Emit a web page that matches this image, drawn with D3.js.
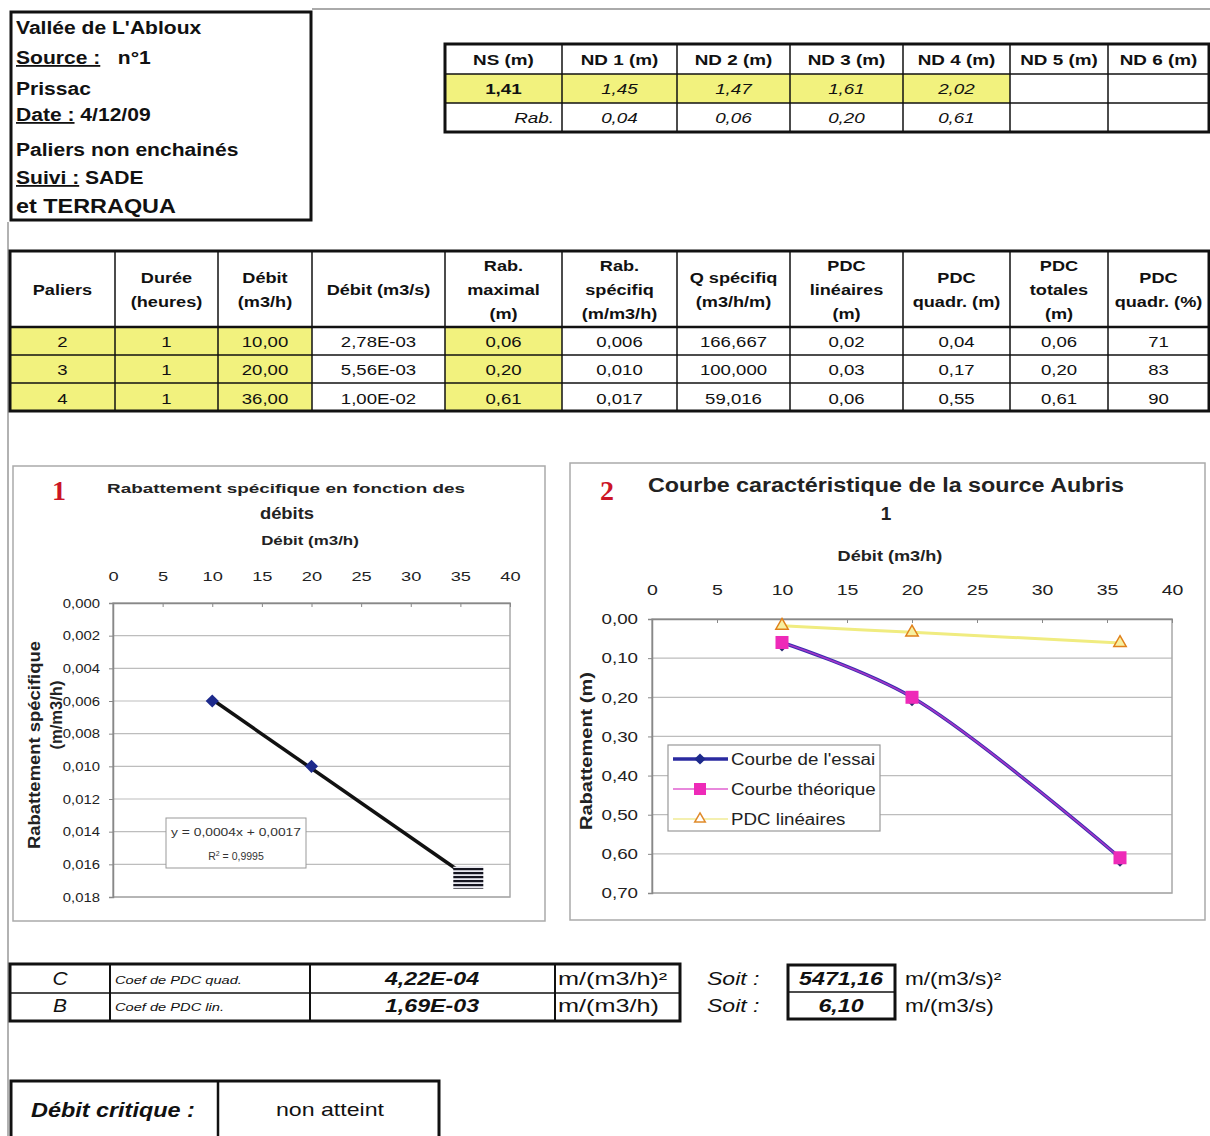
<!DOCTYPE html>
<html>
<head>
<meta charset="utf-8">
<script src="https://cdn.jsdelivr.net/npm/d3@7"></script>
<style>
  body { margin: 0; background: #fff; }
  svg { display: block; font-family: "Liberation Sans", Arial, sans-serif; }
</style>
</head>
<body>
<svg id="sheet"></svg>
<script>
(function() {

// ---- data read from the sheet ----
const infoLines = [
    { label: "", text: "Vallée de L'Abloux" },
    { label: "Source :", text: "   n°1" },
    { label: "", text: "Prissac" },
    { label: "Date :", text: " 4/12/09" },
    { label: "", text: "Paliers non enchainés" },
    { label: "Suivi :", text: " SADE" },
    { label: "", text: "et TERRAQUA" }
];

const niveauHeaders = ["NS (m)", "ND 1 (m)", "ND 2 (m)", "ND 3 (m)", "ND  4 (m)", "ND 5 (m)", "ND 6 (m)"];
const niveauValues = ["1,41", "1,45", "1,47", "1,61", "2,02", "", ""];
const niveauRab = ["Rab.", "0,04", "0,06", "0,20", "0,61", "", ""];

const palierHeaders = [
    ["Paliers"], ["Durée", "(heures)"], ["Débit", "(m3/h)"], ["Débit (m3/s)"],
    ["Rab.", "maximal", "(m)"], ["Rab.", "spécifiq", "(m/m3/h)"], ["Q spécifiq", "(m3/h/m)"],
    ["PDC", "linéaires", "(m)"], ["PDC", "quadr. (m)"], ["PDC", "totales", "(m)"], ["PDC", "quadr. (%)"]
];
const palierRows = [
    ["2", "1", "10,00", "2,78E-03", "0,06", "0,006", "166,667", "0,02", "0,04", "0,06", "71"],
    ["3", "1", "20,00", "5,56E-03", "0,20", "0,010", "100,000", "0,03", "0,17", "0,20", "83"],
    ["4", "1", "36,00", "1,00E-02", "0,61", "0,017", "59,016", "0,06", "0,55", "0,61", "90"]
];
const yellowCols = [0, 1, 2, 4];

// chart values
const debits = [10, 20, 36];
const rabSpecifique = [0.006, 0.010, 0.017];
const rabEssai = [0.06, 0.20, 0.61];
const rabTheorique = [0.06, 0.20, 0.61];
const pdcLineaires = [0.017, 0.034, 0.061];
const xTicks = [0, 5, 10, 15, 20, 25, 30, 35, 40];
const y1Ticks = [0, 0.002, 0.004, 0.006, 0.008, 0.010, 0.012, 0.014, 0.016, 0.018];
const y2Ticks = [0, 0.1, 0.2, 0.3, 0.4, 0.5, 0.6, 0.7];
const coefC = 4.22e-4;
const coefB = 1.69e-3;

const coefRows = [
    ["C", "Coef de PDC quad.", "4,22E-04", "m/(m3/h)²", "5471,16", "m/(m3/s)²"],
    ["B", "Coef de PDC lin.", "1,69E-03", "m/(m3/h)", "6,10", "m/(m3/s)"]
];

const yellow = "#f2f27e";

const svg = d3.select("#sheet").attr("width", 1210).attr("height", 1136);

// the scan is a bit wider than the fonts, so text gets stretched sideways
function stretch(sel, k) {
    sel.each(function() {
        const len = this.getComputedTextLength();
        if (len > 0) d3.select(this).attr("textLength", len * k).attr("lengthAdjust", "spacingAndGlyphs");
    });
    return sel;
}

// page edges from the scan
svg.append("line").attr("x1", 312).attr("x2", 1210).attr("y1", 9).attr("y2", 9)
    .attr("stroke", "#aaa").attr("stroke-width", 2);
svg.append("line").attr("x1", 8).attr("x2", 8).attr("y1", 222).attr("y2", 1136)
    .attr("stroke", "#999").attr("stroke-width", 1.5);

// ---- info box ----
svg.append("rect").attr("x", 11).attr("y", 12).attr("width", 300).attr("height", 208)
    .attr("fill", "none").attr("stroke", "#111").attr("stroke-width", 3);
const infoBase = [34, 64, 95, 121, 156, 184, 213];
infoLines.forEach((d, i) => {
    const t = svg.append("text").attr("x", 16).attr("y", infoBase[i])
        .attr("font-weight", "bold").attr("font-size", i === 6 ? 20 : 18).attr("fill", "#111");
    if (d.label) t.append("tspan").attr("text-decoration", "underline").text(d.label);
    t.append("tspan").attr("xml:space", "preserve").style("white-space", "pre").text(d.text);
    stretch(t, 1.17);
});

// ---- helper for a grid of cells ----
function cellText(x, y, txt, opts) {
    const t = svg.append("text").attr("x", x).attr("y", y)
        .attr("text-anchor", opts.anchor || "middle")
        .attr("font-size", opts.size || 14)
        .attr("font-weight", opts.bold ? "bold" : "normal")
        .attr("font-style", opts.italic ? "italic" : "normal")
        .attr("fill", "#111")
        .text(txt);
    return stretch(t, opts.k || 1.3);
}

// ---- niveaux table ----
const nCols = [445, 562, 677, 790, 903, 1010, 1108, 1209];
const nRows = [44, 74, 103, 132];
niveauValues.forEach((v, i) => {
    if (v) svg.append("rect").attr("x", nCols[i]).attr("y", nRows[1])
        .attr("width", nCols[i + 1] - nCols[i]).attr("height", nRows[2] - nRows[1]).attr("fill", yellow);
});
nCols.slice(1, -1).forEach(x => svg.append("line").attr("x1", x).attr("x2", x)
    .attr("y1", nRows[0]).attr("y2", nRows[3]).attr("stroke", "#111").attr("stroke-width", 1.5));
nRows.slice(1, -1).forEach(y => svg.append("line").attr("x1", nCols[0]).attr("x2", nCols[7])
    .attr("y1", y).attr("y2", y).attr("stroke", "#111").attr("stroke-width", 1.5));
svg.append("rect").attr("x", nCols[0]).attr("y", nRows[0]).attr("width", nCols[7] - nCols[0])
    .attr("height", nRows[3] - nRows[0]).attr("fill", "none").attr("stroke", "#111").attr("stroke-width", 3);
niveauHeaders.forEach((h, i) => cellText((nCols[i] + nCols[i + 1]) / 2, 65, h, { bold: true, size: 14.5, k: 1.3 }));
niveauValues.forEach((v, i) => cellText((nCols[i] + nCols[i + 1]) / 2, 94, v, { bold: i === 0, italic: i > 0, size: 14.5 }));
niveauRab.forEach((v, i) => {
    if (i === 0) cellText(nCols[1] - 8, 123, v, { italic: true, anchor: "end", size: 14.5 });
    else cellText((nCols[i] + nCols[i + 1]) / 2, 123, v, { italic: true, size: 14.5 });
});

// ---- paliers table ----
const pCols = [10, 115, 218, 312, 445, 562, 677, 790, 903, 1010, 1108, 1209];
const pRows = [251, 327, 355, 383, 411];
palierRows.forEach((row, r) => {
    yellowCols.forEach(c => svg.append("rect").attr("x", pCols[c]).attr("y", pRows[r + 1])
        .attr("width", pCols[c + 1] - pCols[c]).attr("height", pRows[r + 2] - pRows[r + 1]).attr("fill", yellow));
});
pCols.slice(1, -1).forEach(x => svg.append("line").attr("x1", x).attr("x2", x)
    .attr("y1", pRows[0]).attr("y2", pRows[4]).attr("stroke", "#111").attr("stroke-width", 1.5));
pRows.slice(1, -1).forEach(y => svg.append("line").attr("x1", pCols[0]).attr("x2", pCols[11])
    .attr("y1", y).attr("y2", y).attr("stroke", "#111").attr("stroke-width", y === 327 ? 2.5 : 1.5));
svg.append("rect").attr("x", pCols[0]).attr("y", pRows[0]).attr("width", pCols[11] - pCols[0])
    .attr("height", pRows[4] - pRows[0]).attr("fill", "none").attr("stroke", "#111").attr("stroke-width", 3);
palierHeaders.forEach((lines, i) => {
    const cx = (pCols[i] + pCols[i + 1]) / 2;
    const start = 295 - (lines.length - 1) * 12;
    lines.forEach((l, k) => cellText(cx, start + k * 24, l, { bold: true, size: 14.5, k: 1.25 }));
});
palierRows.forEach((row, r) => row.forEach((v, i) =>
    cellText((pCols[i] + pCols[i + 1]) / 2, 346.5 + r * 28.5, v, { size: 14.5, k: 1.28 })));

// ---- chart frames ----
svg.append("rect").attr("x", 13).attr("y", 466).attr("width", 532).attr("height", 455)
    .attr("fill", "none").attr("stroke", "#aaa").attr("stroke-width", 1.5);
svg.append("rect").attr("x", 570).attr("y", 463).attr("width", 635).attr("height", 457)
    .attr("fill", "none").attr("stroke", "#aaa").attr("stroke-width", 1.5);

function redNumber(x, y, n) {
    svg.append("text").attr("x", x).attr("y", y).attr("font-family", "'Liberation Serif', serif")
        .attr("font-weight", "bold").attr("font-size", 28).attr("fill", "#cc1526").text(n);
}

function drawFrame(g, x, y, yTicks, fmt, opts) {
    const w = x.range()[1] - x.range()[0];
    g.selectAll(".grid").data(yTicks.slice(1)).enter().append("line")
        .attr("x1", x.range()[0]).attr("x2", x.range()[1])
        .attr("y1", d => y(d)).attr("y2", d => y(d))
        .attr("stroke", "#bdbdbd").attr("stroke-width", 1.2);
    g.append("rect").attr("x", x.range()[0]).attr("y", y.range()[0]).attr("width", w)
        .attr("height", y.range()[1] - y.range()[0]).attr("fill", "none").attr("stroke", "#a8a8a8").attr("stroke-width", 1.5);
    const ax = g.append("g").attr("transform", `translate(0,${y.range()[0]})`)
        .call(d3.axisTop(x).tickValues(xTicks).tickSizeInner(-4).tickSizeOuter(0).tickPadding(opts.xPad));
    const ay = g.append("g").attr("transform", `translate(${x.range()[0]},0)`)
        .call(d3.axisLeft(y).tickValues(yTicks).tickFormat(d => fmt(d).replace(".", ",")).tickSize(4).tickPadding(opts.yPad));
    [ax, ay].forEach(a => {
        a.select(".domain").attr("stroke", "#888").attr("stroke-width", 1.5);
        a.selectAll(".tick line").attr("stroke", "#888");
        a.selectAll("text").attr("font-family", "'Liberation Sans', Arial, sans-serif")
            .attr("font-size", opts.font).attr("fill", "#222");
    });
    stretch(ax.selectAll("text"), opts.kx);
    stretch(ay.selectAll("text"), opts.ky);
}

// ---- chart 1 ----
const x1 = d3.scaleLinear().domain([0, 40]).range([113, 510]);
const y1 = d3.scaleLinear().domain([0, 0.018]).range([603, 897]);
const g1 = svg.append("g");
redNumber(52, 500, "1");
g1.append("text").attr("x", 286).attr("y", 493).attr("text-anchor", "middle")
    .attr("font-weight", "bold").attr("font-size", 13.5).attr("fill", "#222")
    .attr("textLength", 358).attr("lengthAdjust", "spacingAndGlyphs")
    .text("Rabattement spécifique en fonction des");
stretch(g1.append("text").attr("x", 287).attr("y", 519).attr("text-anchor", "middle")
    .attr("font-weight", "bold").attr("font-size", 16).attr("fill", "#222").text("débits"), 1.15);
stretch(g1.append("text").attr("x", 310).attr("y", 545).attr("text-anchor", "middle")
    .attr("font-weight", "bold").attr("font-size", 13).attr("fill", "#222").text("Débit (m3/h)"), 1.3);
drawFrame(g1, x1, y1, y1Ticks, d3.format(".3f"), { xPad: 22, yPad: 9, font: 13.5, kx: 1.35, ky: 1.1 });
g1.append("text").attr("transform", "translate(40,745) rotate(-90)").attr("text-anchor", "middle")
    .attr("font-weight", "bold").attr("font-size", 16.5).attr("fill", "#222")
    .attr("textLength", 208).attr("lengthAdjust", "spacingAndGlyphs").text("Rabattement spécifique");
g1.append("text").attr("transform", "translate(62,715) rotate(-90)").attr("text-anchor", "middle")
    .attr("font-weight", "bold").attr("font-size", 16.5).attr("fill", "#222").text("(m/m3/h)");

// trend line y = C x + B
const trend = [debits[0], debits[debits.length - 1]].map(q => [q, coefC * q + coefB]);
g1.append("path").attr("d", d3.line().x(d => x1(d[0])).y(d => y1(d[1]))(trend))
    .attr("stroke", "#111").attr("stroke-width", 3.5).attr("fill", "none");

const stripes = svg.append("defs").append("pattern").attr("id", "stripes")
    .attr("patternUnits", "userSpaceOnUse").attr("width", 6).attr("height", 4);
stripes.append("rect").attr("width", 6).attr("height", 4).attr("fill", "#e8e8f0");
stripes.append("rect").attr("width", 6).attr("height", 2.2).attr("fill", "#151520");

debits.forEach((q, i) => {
    if (i < debits.length - 1) {
        g1.append("path").attr("d", d3.symbol(d3.symbolDiamond2, 110)())
            .attr("transform", `translate(${x1(q)},${y1(rabSpecifique[i])})`)
            .attr("fill", "#1d2a8c");
    } else {
        g1.append("rect").attr("x", x1(q) - 17).attr("y", y1(rabSpecifique[i]) - 14)
            .attr("width", 30).attr("height", 22).attr("fill", "url(#stripes)");
    }
});

// equation label
g1.append("rect").attr("x", 166).attr("y", 818).attr("width", 140).attr("height", 50)
    .attr("fill", "#fff").attr("stroke", "#999").attr("stroke-width", 1);
g1.append("text").attr("x", 236).attr("y", 836).attr("text-anchor", "middle")
    .attr("font-size", 10.5).attr("fill", "#333").attr("textLength", 130).attr("lengthAdjust", "spacingAndGlyphs")
    .text("y = 0,0004x + 0,0017");
const r2 = g1.append("text").attr("x", 236).attr("y", 860).attr("text-anchor", "middle")
    .attr("font-size", 10.5).attr("fill", "#333");
r2.append("tspan").text("R");
r2.append("tspan").attr("dy", -4).attr("font-size", 7).text("2");
r2.append("tspan").attr("dy", 4).text(" = 0,9995");

// ---- chart 2 ----
const x2 = d3.scaleLinear().domain([0, 40]).range([652, 1172]);
const y2 = d3.scaleLinear().domain([0, 0.7]).range([619, 893]);
const g2 = svg.append("g");
redNumber(600, 500, "2");
g2.append("text").attr("x", 886).attr("y", 492).attr("text-anchor", "middle")
    .attr("font-weight", "bold").attr("font-size", 19.5).attr("fill", "#222")
    .attr("textLength", 476).attr("lengthAdjust", "spacingAndGlyphs")
    .text("Courbe caractéristique de la source Aubris");
g2.append("text").attr("x", 886).attr("y", 520).attr("text-anchor", "middle")
    .attr("font-weight", "bold").attr("font-size", 19).attr("fill", "#222").text("1");
stretch(g2.append("text").attr("x", 890).attr("y", 561).attr("text-anchor", "middle")
    .attr("font-weight", "bold").attr("font-size", 14.5).attr("fill", "#222").text("Débit (m3/h)"), 1.25);
drawFrame(g2, x2, y2, y2Ticks, d3.format(".2f"), { xPad: 24, yPad: 10, font: 15, kx: 1.3, ky: 1.25 });
g2.append("text").attr("transform", "translate(592,751) rotate(-90)").attr("text-anchor", "middle")
    .attr("font-weight", "bold").attr("font-size", 16).attr("fill", "#222")
    .attr("textLength", 158).attr("lengthAdjust", "spacingAndGlyphs").text("Rabattement (m)");

const smooth = d3.line().x(d => x2(d[0])).y(d => y2(d[1])).curve(d3.curveCatmullRom.alpha(0.5));
const essai = debits.map((q, i) => [q, rabEssai[i]]);
const theo = debits.map((q, i) => [q, rabTheorique[i]]);
const lin = debits.map((q, i) => [q, pdcLineaires[i]]);

g2.append("path").attr("d", smooth(lin)).attr("fill", "none").attr("stroke", "#f0ec80").attr("stroke-width", 3);
g2.append("path").attr("d", smooth(essai)).attr("fill", "none").attr("stroke", "#3a2cb0").attr("stroke-width", 3.5);
g2.append("path").attr("d", smooth(theo)).attr("fill", "none").attr("stroke", "#d33ad0").attr("stroke-width", 1.6).attr("opacity", 0.7);

essai.forEach(d => g2.append("path").attr("d", d3.symbol(d3.symbolDiamond2, 90)())
    .attr("transform", `translate(${x2(d[0])},${y2(d[1]) + 3})`).attr("fill", "#2a2a70"));
theo.forEach(d => g2.append("rect").attr("x", x2(d[0]) - 6.5).attr("y", y2(d[1]) - 6.5)
    .attr("width", 13).attr("height", 13).attr("fill", "#ee2ab8"));
const tri = d3.symbol(d3.symbolTriangle2, 110)();
lin.forEach(d => g2.append("path").attr("d", tri)
    .attr("transform", `translate(${x2(d[0])},${y2(d[1])})`)
    .attr("fill", "#f7f0a0").attr("stroke", "#e0801a").attr("stroke-width", 1.5));

// legend
const legend = [
    { name: "Courbe de l'essai", color: "#2a2aa0", width: 3.5, mark: "diamond" },
    { name: "Courbe théorique", color: "#e060d0", width: 1.5, mark: "square" },
    { name: "PDC linéaires", color: "#f4f0b0", width: 2, mark: "triangle" }
];
g2.append("rect").attr("x", 668).attr("y", 745).attr("width", 212).attr("height", 86)
    .attr("fill", "#fff").attr("stroke", "#999").attr("stroke-width", 1.2);
legend.forEach((d, i) => {
    const ly = 759 + i * 30;
    g2.append("line").attr("x1", 673).attr("x2", 728).attr("y1", ly).attr("y2", ly)
        .attr("stroke", d.color).attr("stroke-width", d.width);
    if (d.mark === "diamond") g2.append("path").attr("d", d3.symbol(d3.symbolDiamond2, 80)())
        .attr("transform", `translate(700,${ly})`).attr("fill", "#1d2a8c");
    if (d.mark === "square") g2.append("rect").attr("x", 694).attr("y", ly - 6).attr("width", 12).attr("height", 12).attr("fill", "#ee2ab8");
    if (d.mark === "triangle") g2.append("path").attr("d", d3.symbol(d3.symbolTriangle2, 80)()).attr("transform", `translate(700,${ly})`)
        .attr("fill", "#fff").attr("stroke", "#e08a2a").attr("stroke-width", 1.5);
    stretch(g2.append("text").attr("x", 731).attr("y", ly + 6).attr("font-size", 16).attr("fill", "#222").text(d.name), 1.17);
});

// ---- coefficients ----
const cCols = [10, 110, 310, 555, 680];
const cRows = [964, 993, 1021];
cCols.slice(1, -1).forEach(x => svg.append("line").attr("x1", x).attr("x2", x)
    .attr("y1", cRows[0]).attr("y2", cRows[2]).attr("stroke", "#111").attr("stroke-width", 2));
svg.append("line").attr("x1", cCols[0]).attr("x2", cCols[4]).attr("y1", cRows[1]).attr("y2", cRows[1])
    .attr("stroke", "#111").attr("stroke-width", 1.5);
svg.append("rect").attr("x", cCols[0]).attr("y", cRows[0]).attr("width", cCols[4] - cCols[0])
    .attr("height", cRows[2] - cRows[0]).attr("fill", "none").attr("stroke", "#111").attr("stroke-width", 3);
svg.append("line").attr("x1", 788).attr("x2", 895).attr("y1", 992).attr("y2", 992)
    .attr("stroke", "#111").attr("stroke-width", 1.5);
svg.append("rect").attr("x", 788).attr("y", 965).attr("width", 107).attr("height", 54)
    .attr("fill", "none").attr("stroke", "#111").attr("stroke-width", 3);
coefRows.forEach((row, r) => {
    const by = 985 + r * 27;
    cellText(60, by, row[0], { italic: true, size: 19, k: 1.1 });
    cellText(115, by - 1, row[1], { italic: true, size: 11, anchor: "start", k: 1.33 });
    cellText(432, by, row[2], { italic: true, bold: true, size: 19, k: 1.22 });
    cellText(558, by, row[3], { size: 18, anchor: "start", k: 1.4 });
    cellText(707, by, "Soit :", { italic: true, size: 18, anchor: "start", k: 1.28 });
    cellText(841, by, row[4], { italic: true, bold: true, size: 19, k: 1.22 });
    cellText(905, by, row[5], { size: 18, anchor: "start", k: 1.25 });
});

// ---- débit critique ----
svg.append("rect").attr("x", 11).attr("y", 1081).attr("width", 428).attr("height", 70)
    .attr("fill", "none").attr("stroke", "#111").attr("stroke-width", 3);
svg.append("line").attr("x1", 218).attr("x2", 218).attr("y1", 1081).attr("y2", 1136)
    .attr("stroke", "#111").attr("stroke-width", 2.5);
cellText(31, 1117, "Débit critique :", { italic: true, bold: true, size: 19.5, anchor: "start", k: 1.2 });
cellText(330, 1116, "non atteint", { size: 18.5, k: 1.25 });

})();
</script>
</body>
</html>
